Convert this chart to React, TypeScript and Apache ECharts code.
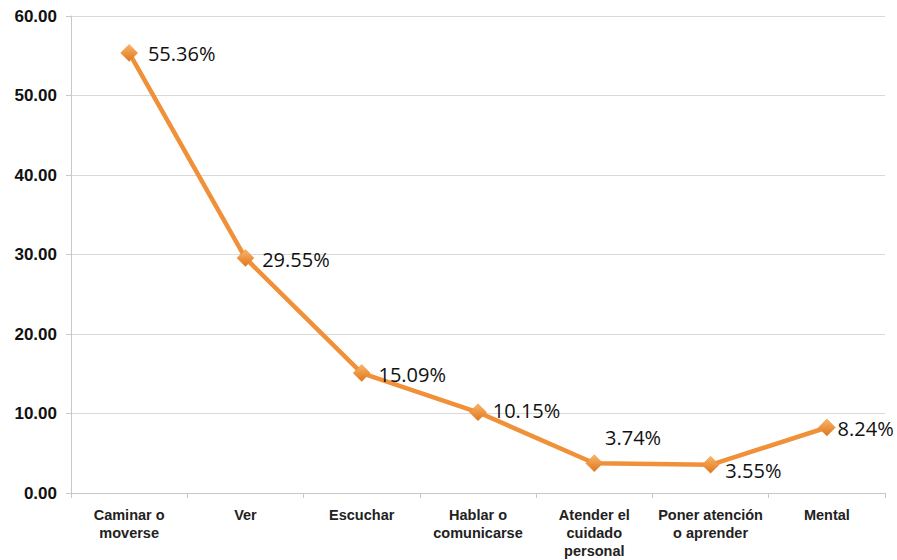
import React, { useEffect, useRef } from "react";
import * as echarts from "echarts";

const categories = [
  "Caminar o\nmoverse",
  "Ver",
  "Escuchar",
  "Hablar o\ncomunicarse",
  "Atender el\ncuidado\npersonal",
  "Poner atención\no aprender",
  "Mental",
];
const values = [55.36, 29.55, 15.09, 10.15, 3.74, 3.55, 8.24];
const labelOffsets = [[4, 1], [2, 1], [2, 1], [0, -2], [-4, -26], [0, 6], [-4, 1]];
const yTicks = { min: 0, max: 60, interval: 10 };

export default function App() {
  const ref = useRef<HTMLDivElement>(null);
  useEffect(() => {
    const chart = echarts.init(ref.current!, null, { renderer: "svg" });
    const markerColor = new echarts.graphic.LinearGradient(0, 0, 0, 1, [
      { offset: 0, color: "#F9B56A" },
      { offset: 1, color: "#E0761C" },
    ]);
    chart.setOption({
      animation: false,
      backgroundColor: "#fff",
      grid: { left: 71, right: 12, top: 16, bottom: 67, containLabel: false },
      xAxis: {
        type: "category",
        data: categories,
        boundaryGap: true,
        axisLine: { lineStyle: { color: "#c8c8c8", width: 1 } },
        axisTick: { show: true, length: 5, lineStyle: { color: "#c8c8c8" } },
        axisLabel: {
          interval: 0,
          margin: 13,
          fontFamily: "Liberation Sans, Arial",
          fontWeight: "bold",
          fontSize: 14.5,
          lineHeight: 18,
          color: "#222",
        },
      },
      yAxis: {
        type: "value",
        min: yTicks.min,
        max: yTicks.max,
        interval: yTicks.interval,
        axisLine: { show: true, lineStyle: { color: "#c8c8c8" } },
        axisTick: { show: true, length: 5, lineStyle: { color: "#c8c8c8" } },
        splitLine: { lineStyle: { color: "#d9d9d9", width: 1 } },
        axisLabel: {
          margin: 14,
          fontFamily: "Liberation Sans, Arial",
          fontWeight: "bold",
          fontSize: 17,
          color: "#111",
          formatter: (v: number) => v.toFixed(2),
        },
      },
      series: [
        {
          type: "line",
          data: values.map((v, i) => ({
            value: v,
            label: { offset: labelOffsets[i] },
          })),
          lineStyle: { color: "#F0913A", width: 4.5 },
          symbol: "diamond",
          symbolSize: 17,
          itemStyle: { color: markerColor, borderColor: "#E8862C", borderWidth: 0.5 },
          label: {
            show: true,
            position: "right",
            formatter: (p: any) => p.value.toFixed(2) + "%",
            fontFamily: "Open Sans, Noto Sans, sans-serif",
            fontSize: 20,
            color: "#111",
            distance: 6,
          },
        },
      ],
    });
    return () => chart.dispose();
  }, []);
  return <div ref={ref} style={{ width: 897, height: 560, position: "absolute", left: 0, top: 0 }} />;
}
